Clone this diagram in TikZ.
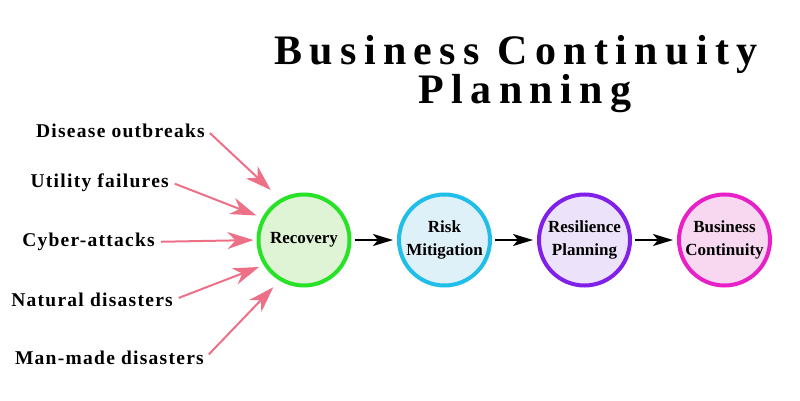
\documentclass[tikz,border=0pt]{standalone}
\usepackage{fontspec}
\setmainfont{Liberation Serif}
\usetikzlibrary{arrows.meta}
\definecolor{recline}{RGB}{40,226,40}
\definecolor{recfill}{RGB}{222,244,212}
\definecolor{riskline}{RGB}{32,190,232}
\definecolor{riskfill}{RGB}{222,240,248}
\definecolor{resline}{RGB}{128,32,232}
\definecolor{resfill}{RGB}{236,226,250}
\definecolor{bcline}{RGB}{232,32,200}
\definecolor{bcfill}{RGB}{248,216,240}
\definecolor{causepink}{RGB}{238,112,135}

\begin{document}
\begin{tikzpicture}[x=1pt,y=-1pt,
  stage/.style={circle,line width=4pt,minimum size=91pt,inner sep=0pt,align=center,font=\fontsize{17}{23}\selectfont\bfseries},
  cause/.style={anchor=base east,inner sep=2pt,font=\fontsize{19.5}{22}\selectfont\bfseries\addfontfeatures{LetterSpace=6.5}},
  headline/.style={inner sep=0pt,align=center,font=\fontsize{42}{30}\selectfont\bfseries\addfontfeatures{LetterSpace=17.5}},
  hit/.style={draw=causepink,line width=2pt,-{Stealth[length=26pt,width=17pt,inset=8pt]},shorten <=4pt},
  next/.style={line width=2pt,-{Stealth[length=20pt,width=12pt,inset=5pt]},shorten <=3pt,shorten >=4pt}]
\useasboundingbox (0,0) rectangle (800,401);
% title
\node[headline] (title) at (516,74) {Business Continuity\\\hspace*{18pt}Planning};
% stages
\node[stage,draw=recline,fill=recfill] (rec) at (304,240) {Recovery};
\node[stage,draw=riskline,fill=riskfill] (risk) at (444.5,240) {Risk\\Mitigation};
\node[stage,draw=resline,fill=resfill] (resil) at (584.5,240) {Resilience\\Planning};
\node[stage,draw=bcline,fill=bcfill] (bc) at (724.5,240) {Business\\Continuity};
\draw[next] (rec) -- (risk);
\draw[next] (risk) -- (resil);
\draw[next] (resil) -- (bc);
% causes
\node[cause] (disease) at (207,137) {Disease outbreaks};
\node[cause] (utility) at (171,187) {Utility failures};
\node[cause] (cyber) at (157,246.5) {Cyber-attacks};
\node[cause] (natural) at (175,306) {Natural disasters};
\node[cause] (manmade) at (206,364) {Man-made disasters};
\draw[hit,shorten >=13pt] (disease.east) -- (rec.120);
\draw[hit,shorten >=6pt] (utility.east) -- (rec.152);
\draw[hit,shorten >=3pt] (cyber.east) -- (rec.180);
\draw[hit,shorten >=5pt] (natural.east) -- (rec.212);
\draw[hit,shorten >=9pt] (manmade.east) -- (rec.239);
\end{tikzpicture}
\end{document}
